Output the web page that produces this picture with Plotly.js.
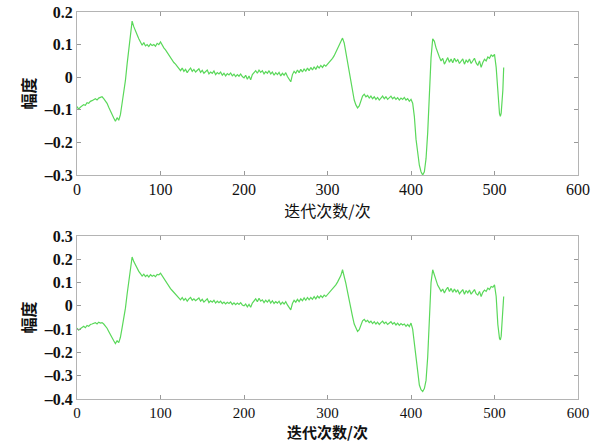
<!DOCTYPE html>
<html>
<head>
<meta charset="utf-8">
<script src="https://cdn.plot.ly/plotly-3.0.1.min.js"></script>
<style>html,body{margin:0;padding:0;background:#fff;}#chart{width:608px;height:445px;}</style>
</head>
<body>
<div id="chart"></div>
<script>
// iteration index (shared by both panels)
var iterations = [
0,2,4,6,8,10,12,14,16,18,
20,22,24,26,28,30,32,34,36,38,
40,42,44,46,48,50,52,54,56,58,
60,62,64,66,68,70,72,74,76,78,
80,82,84,86,88,90,92,94,96,98,
100,102,104,106,108,110,112,114,116,118,
120,122,124,126,128,130,132,134,136,138,
140,142,144,146,148,150,152,154,156,158,
160,162,164,166,168,170,172,174,176,178,
180,182,184,186,188,190,192,194,196,198,
200,202,204,206,208,210,212,214,216,218,
220,222,224,226,228,230,232,234,236,238,
240,242,244,246,248,250,252,254,256,258,
260,262,264,266,268,270,272,274,276,278,
280,282,284,286,288,290,292,294,296,298,
300,302,304,306,308,310,312,314,316,318,
320,322,324,326,328,330,332,334,336,338,
340,342,344,346,348,350,352,354,356,358,
360,362,364,366,368,370,372,374,376,378,
380,382,384,386,388,390,392,394,396,398,
400,402,404,406,408,410,412,414,416,418,
420,422,424,426,428,430,432,434,436,438,
440,442,444,446,448,450,452,454,456,458,
460,462,464,466,468,470,472,474,476,478,
480,482,484,486,488,490,492,494,496,498,
500,502,504,506,507,508,510,511];

// amplitude, top panel
var ampTop = [
-0.09,-0.098,-0.092,-0.088,-0.084,-0.086,-0.078,-0.08,-0.074,-0.072,
-0.07,-0.066,-0.07,-0.064,-0.062,-0.06,-0.066,-0.072,-0.08,-0.092,
-0.105,-0.116,-0.125,-0.135,-0.124,-0.132,-0.115,-0.08,-0.05,-0.01,
0.04,0.09,0.14,0.172,0.155,0.145,0.13,0.118,0.11,0.098,
0.106,0.096,0.1,0.094,0.102,0.097,0.1,0.095,0.104,0.1,
0.108,0.098,0.09,0.084,0.076,0.068,0.058,0.052,0.045,0.04,
0.032,0.026,0.02,0.028,0.018,0.024,0.014,0.022,0.028,0.018,
0.024,0.016,0.02,0.026,0.015,0.021,0.012,0.018,0.022,0.01,
0.016,0.012,0.019,0.008,0.014,0.01,0.016,0.006,0.012,0.004,
0.011,0.007,0.013,0.004,0.009,0.002,0.008,0.003,0.01,0.002,
-0.002,0.006,-0.006,0.004,-0.008,0.008,0.014,0.02,0.012,0.022,
0.015,0.02,0.01,0.017,0.012,0.02,0.01,0.016,0.006,0.014,
0.008,0.015,0.004,0.012,0.006,0.014,0.002,-0.006,-0.014,0.008,
0.018,0.012,0.022,0.014,0.024,0.016,0.026,0.018,0.028,0.02,
0.03,0.022,0.032,0.024,0.034,0.028,0.036,0.03,0.038,0.034,
0.04,0.044,0.05,0.058,0.066,0.076,0.086,0.096,0.108,0.12,
0.105,0.075,0.045,0.01,-0.02,-0.045,-0.07,-0.085,-0.094,-0.088,
-0.072,-0.058,-0.052,-0.06,-0.056,-0.064,-0.058,-0.066,-0.06,-0.068,
-0.062,-0.07,-0.064,-0.058,-0.066,-0.06,-0.068,-0.062,-0.058,-0.066,
-0.061,-0.068,-0.063,-0.07,-0.064,-0.068,-0.062,-0.07,-0.066,-0.074,
-0.068,-0.08,-0.12,-0.19,-0.235,-0.27,-0.29,-0.3,-0.29,-0.25,
-0.17,-0.06,0.06,0.118,0.11,0.09,0.072,0.062,0.05,0.058,
0.04,0.052,0.06,0.046,0.056,0.044,0.058,0.048,0.054,0.042,
0.05,0.056,0.04,0.052,0.046,0.056,0.042,0.05,0.058,0.044,
0.036,0.05,0.03,0.045,0.055,0.05,0.062,0.058,0.068,0.064,
0.07,0.03,-0.06,-0.112,-0.12,-0.11,-0.04,0.03];

// amplitude, bottom panel
var ampBot = [
-0.096,-0.104,-0.098,-0.092,-0.088,-0.094,-0.084,-0.088,-0.08,-0.078,
-0.076,-0.072,-0.078,-0.07,-0.074,-0.072,-0.078,-0.086,-0.096,-0.11,
-0.125,-0.14,-0.15,-0.162,-0.15,-0.158,-0.135,-0.095,-0.055,-0.01,
0.05,0.11,0.17,0.21,0.19,0.175,0.16,0.148,0.138,0.128,
0.136,0.126,0.132,0.124,0.134,0.127,0.131,0.125,0.135,0.133,
0.14,0.128,0.118,0.108,0.096,0.086,0.074,0.066,0.058,0.05,
0.042,0.034,0.026,0.036,0.024,0.032,0.02,0.03,0.036,0.024,
0.03,0.022,0.028,0.034,0.02,0.028,0.016,0.024,0.03,0.014,
0.022,0.016,0.024,0.012,0.02,0.014,0.02,0.01,0.016,0.008,
0.015,0.01,0.017,0.006,0.013,0.005,0.012,0.006,0.014,0.004,
0.0,0.008,-0.004,0.006,-0.006,0.012,0.02,0.03,0.018,0.033,
0.02,0.026,0.014,0.024,0.016,0.026,0.012,0.022,0.01,0.018,
0.012,0.02,0.006,0.016,0.008,0.018,0.004,-0.006,-0.017,0.01,
0.024,0.016,0.028,0.018,0.03,0.022,0.034,0.024,0.036,0.026,
0.036,0.028,0.04,0.03,0.042,0.034,0.044,0.036,0.046,0.04,
0.048,0.054,0.062,0.07,0.08,0.09,0.102,0.115,0.13,0.155,
0.13,0.097,0.06,0.02,-0.015,-0.046,-0.078,-0.098,-0.11,-0.102,
-0.082,-0.064,-0.058,-0.068,-0.062,-0.072,-0.066,-0.076,-0.068,-0.078,
-0.07,-0.08,-0.072,-0.066,-0.076,-0.07,-0.08,-0.072,-0.068,-0.078,
-0.072,-0.082,-0.074,-0.084,-0.076,-0.082,-0.078,-0.088,-0.08,-0.089,
-0.074,-0.1,-0.16,-0.24,-0.3,-0.34,-0.36,-0.368,-0.355,-0.32,
-0.22,-0.04,0.1,0.155,0.13,0.105,0.088,0.076,0.062,0.072,
0.055,0.07,0.08,0.062,0.075,0.058,0.072,0.06,0.068,0.052,
0.064,0.07,0.05,0.066,0.056,0.068,0.05,0.062,0.07,0.052,
0.046,0.062,0.04,0.058,0.068,0.062,0.076,0.07,0.083,0.08,
0.09,0.04,-0.08,-0.14,-0.146,-0.13,-0.04,0.04];

var tickValsTop = [-0.3,-0.2,-0.1,0,0.1,0.2];
var tickTextTop = ['\u20130.3','\u20130.2','\u20130.1','0','0.1','0.2'];
var tickValsBot = [-0.4,-0.3,-0.2,-0.1,0,0.1,0.2,0.3];
var tickTextBot = ['\u20130.4','\u20130.3','\u20130.2','\u20130.1','0','0.1','0.2','0.3'];
var xTickVals = [0,100,200,300,400,500,600];

var lineStyle = {color:'#5ad85a', width:1.2};
var traces = [
  {x:iterations, y:ampTop, type:'scatter', mode:'lines', line:lineStyle, xaxis:'x', yaxis:'y', hoverinfo:'skip'},
  {x:iterations, y:ampBot, type:'scatter', mode:'lines', line:lineStyle, xaxis:'x2', yaxis:'y2', hoverinfo:'skip'}
];

var serif = 'Liberation Serif, Times New Roman, serif';
var cjk = 'Noto Sans CJK SC, sans-serif';

function xax(anchor, bold, tickSize, titleSize, standoff){
  return {
    domain:[0,1], anchor:anchor, range:[0,600], tickvals:xTickVals,
    ticks:'inside', ticklen:4, tickcolor:'#999', showline:true, mirror:'ticks',
    linecolor:'#b4b4b4', linewidth:1, showgrid:false, zeroline:false,
    tickfont:{family:serif, size:tickSize, color:'#111'},
    title:{text:'迭代次数/次', font:{family:cjk, size:titleSize, color:'#111', weight: bold?700:400}, standoff:standoff}
  };
}
function yax(anchor, dom, rng, tv, tt){
  return {
    domain:dom, anchor:anchor, range:rng, tickvals:tv, ticktext:tt,
    ticks:'inside', ticklen:4, tickcolor:'#999', showline:true, mirror:'ticks',
    linecolor:'#b4b4b4', linewidth:1, showgrid:false, zeroline:false,
    tickfont:{family:serif, size:16, color:'#111', weight:'bold'},
    title:{text:'幅度', font:{family:cjk, size:16, color:'#111', weight:700}, standoff:4}
  };
}

var layout = {
  width:608, height:445,
  margin:{l:77, r:30, t:12, b:46},
  font:{family:serif},
  paper_bgcolor:'#fff', plot_bgcolor:'#fff',
  showlegend:false,
  xaxis: xax('y', false, 16, 16, 3),
  yaxis: yax('x', [0.5788,1], [-0.3,0.2], tickValsTop, tickTextTop),
  xaxis2: xax('y2', true, 15, 15, 5),
  yaxis2: yax('x2', [0,0.4212], [-0.4,0.3], tickValsBot, tickTextBot)
};

Plotly.newPlot('chart', traces, layout, {staticPlot:true, displayModeBar:false});
</script>
</body>
</html>
